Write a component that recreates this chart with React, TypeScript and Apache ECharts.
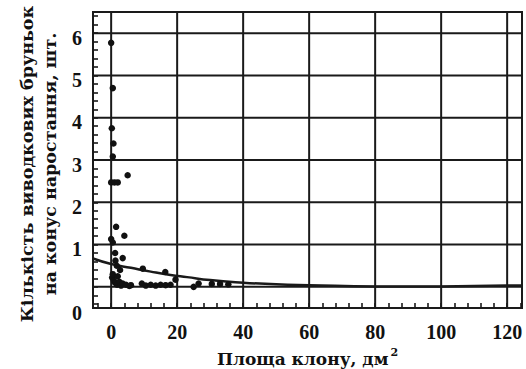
import React, { useEffect, useRef } from "react";
import * as echarts from "echarts";

// Scatter observations: [crown area dm², brood buds per growth cone]
const pointsX = [0, 0.5, 0.2, 0.7, 0.5, 5, 0, 1, 2, 1.5, 4, 0, 0.5, 1.2, 3.5, 1.3, 1.7, 2.7, 9.6, 16.4, 19.5,
  0.3, 0.8, 1.2, 1.8, 2.5, 3, 3.5, 4.5, 5.5, 6, 0.5, 2,
  9.3, 10.5, 12, 13.5, 15, 16.5, 18, 25, 26.5, 30.5, 33, 35.5];
const pointsY = [5.77, 4.7, 3.75, 3.39, 3.08, 2.64, 2.47, 2.47, 2.47, 1.42, 1.21, 1.13, 1.05, 0.8, 0.68, 0.62, 0.5, 0.4, 0.43, 0.35, 0.17,
  0.22, 0.15, 0.1, 0.05, 0.12, 0.03, 0.08, 0.05, 0.02, 0.04, 0.3, 0.25,
  0.08, 0.03, 0.05, 0.03, 0.05, 0.04, 0.05, 0.0, 0.08, 0.07, 0.07, 0.06];

// Trend curve
const curveX = [-5.5, 0, 6, 12, 18, 23, 30, 40, 50, 60, 80, 100, 120, 124.5];
const curveY = [0.67, 0.54, 0.45, 0.36, 0.28, 0.23, 0.16, 0.1, 0.06, 0.04, 0.01, 0.01, 0.03, 0.03];

// Axes
const xLabels = [0, 20, 40, 60, 80, 100, 120];
const yLabels = [-0.5, 1, 2, 3, 4, 5, 6];
const xGrid = [0, 20, 40, 60, 80, 100, 120];
const yGrid = [0, 1, 2, 3, 4, 5, 6];
const xMin = -5.5;
const xMax = 124.5;
const yMin = -0.5;
const yMax = 6.5;

const font = "Liberation Serif";
const titleFont = "DejaVu Serif";

export default function App() {
  const ref = useRef<HTMLDivElement>(null);
  useEffect(() => {
    if (!ref.current) return;
    const chart = echarts.init(ref.current, null, { renderer: "svg" });
    const xTicks: number[] = [];
    for (let v = -4; v <= 124; v += 4) xTicks.push(v);
    const yTicks: number[] = [];
    for (let i = -2; i <= 32; i++) yTicks.push(Math.round(i * 20) / 100);
    const ink = "#1a1a1a";
    const gridSeries = [
      ...xGrid.map((v) => [[v, yMin], [v, yMax]]),
      ...yGrid.map((v) => [[xMin, v], [xMax, v]]),
    ].map((pts) => ({
      type: "line", silent: true, z: 1, showSymbol: false, symbol: "none",
      lineStyle: { color: ink, width: 2 },
      data: pts,
    }));
    chart.setOption({
      animation: false,
      backgroundColor: "#ffffff",
      grid: {
        left: 93, right: 4, top: 12, bottom: 61,
        outerBoundsMode: "none",
        containLabel: false,
        show: true, borderColor: ink, borderWidth: 2, backgroundColor: "transparent",
      },
      xAxis: {
        type: "value", min: xMin, max: xMax,
        axisLine: { show: false, onZero: false },
        splitLine: { show: false },
        axisTick: { show: true, inside: true, length: 5, customValues: xTicks, lineStyle: { color: ink, width: 1.6 } },
        axisLabel: {
          customValues: xLabels, margin: 14, color: "#111",
          fontFamily: font, fontWeight: "bold", fontSize: 20,
        },
        name: "{a|Площа клону, дм}{s|2}",
        nameLocation: "middle", nameGap: 33,
        nameTextStyle: {
          rich: {
            a: { fontFamily: titleFont, fontWeight: "bold", fontSize: 17, color: "#111" },
            s: { fontFamily: titleFont, fontWeight: "bold", fontSize: 11, color: "#111", padding: [0, 0, 14, 2] },
          },
        },
      },
      yAxis: {
        type: "value", min: yMin, max: yMax,
        axisLine: { show: false, onZero: false },
        splitLine: { show: false },
        axisTick: { show: true, inside: true, length: 5, customValues: yTicks, lineStyle: { color: ink, width: 1.6 } },
        axisLabel: {
          customValues: yLabels, margin: 11, color: "#111",
          fontFamily: font, fontWeight: "bold", fontSize: 20,
          verticalAlign: "top", lineHeight: 9,
          formatter: (v: number) => (v < 0 ? "0" : String(v)),
        },
        name: "Кількість виводкових бруньок\nна конус наростання, шт.",
        nameLocation: "middle", nameGap: 32, nameRotate: 90,
        nameTextStyle: {
          fontFamily: titleFont, fontWeight: "bold", fontSize: 17.5, color: "#111", lineHeight: 23,
          padding: [0, 8, 0, 0],
        },
      },
      series: [
        ...gridSeries,
        {
          type: "line", smooth: true, showSymbol: false, symbol: "none", silent: true, z: 3,
          lineStyle: { color: ink, width: 2.5 },
          data: curveX.map((x, i) => [x, curveY[i]]),
        },
        {
          type: "scatter", symbolSize: 6.5, z: 4,
          itemStyle: { color: "#111", opacity: 1 },
          data: pointsX.map((x, i) => [x, pointsY[i]]),
        },
      ],
    });
    return () => chart.dispose();
  }, []);
  return <div ref={ref} style={{ width: 526, height: 369, position: "absolute", left: 0, top: 0 }} />;
}
